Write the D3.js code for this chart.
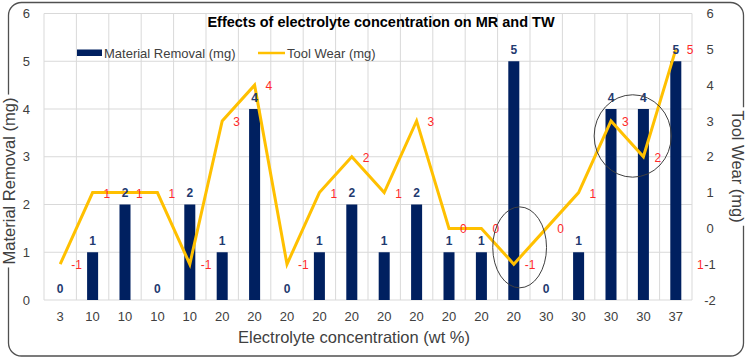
<!DOCTYPE html>
<html>
<head>
<meta charset="utf-8">
<script src="https://cdnjs.cloudflare.com/ajax/libs/d3/7.8.5/d3.min.js"></script>
<style>
  body { margin: 0; background: #fff; }
  svg text { font-family: "Liberation Sans", Arial, sans-serif; }
</style>
</head>
<body>
<div id="chart-holder"></div>
<script>
// Chart data
var concentration = ["3", "10", "10", "10", "10", "20", "20", "20", "20", "20",
                     "20", "20", "20", "20", "20", "30", "30", "30", "30", "37"];
var materialRemoval = [0, 1, 2, 0, 2, 1, 4, 0, 1, 2, 1, 2, 1, 1, 5, 0, 1, 4, 4, 5];
var toolWear = [-1, 1, 1, 1, -1, 3, 4, -1, 1, 2, 1, 3, 0, 0, -1, 0, 1, 3, 2, 5];
var leftTicks = [0, 1, 2, 3, 4, 5, 6];
var rightTicks = [-2, -1, 0, 1, 2, 3, 4, 5, 6];

// Hand drawn circles: category position, tool wear value, radius in bands / mg
var circlePos = [14.68, 18.17];
var circleValue = [-0.53, 2.58];
var circleRx = [0.83, 1.19];
var circleRy = [1.13, 1.15];

var width = 748;
var height = 362;
var plot = {left: 44, right: 692, top: 13.5, bottom: 300};

var svg = d3.select("#chart-holder")
  .append("svg")
  .attr("width", width)
  .attr("height", height);

// Scales
var x = d3.scaleBand()
  .domain(d3.range(concentration.length))
  .range([plot.left, plot.right]);
var xc = d3.scaleLinear()
  .domain([0, concentration.length])
  .range([plot.left, plot.right]);
var yL = d3.scaleLinear().domain([0, 6]).range([plot.bottom, plot.top]);
var yR = d3.scaleLinear().domain([-2, 6]).range([plot.bottom, plot.top]);
var bw = x.bandwidth();
var plain = function(d) { return String(d); };

// Outer frame
svg.append("rect")
  .attr("x", 8.5).attr("y", 2.5)
  .attr("width", 735).attr("height", 353.5)
  .attr("rx", 13)
  .attr("fill", "#fff")
  .attr("stroke", "#505050")
  .attr("stroke-width", 1.3);

// Axis titles, with white behind to break the frame
function axisTitle(txt, tx, ty, rot) {
  var g = svg.append("g").attr("transform", "translate(" + tx + "," + ty + ") rotate(" + rot + ")");
  var bg = g.append("rect").attr("fill", "#fff");
  var t = g.append("text")
    .attr("text-anchor", "middle")
    .attr("fill", "#404040")
    .style("font-size", "16.5px")
    .text(txt);
  var b = t.node().getBBox();
  bg.attr("x", b.x - 3).attr("y", b.y).attr("width", b.width + 6).attr("height", b.height);
}
axisTitle("Material Removal (mg)", 15, 181, -90);
axisTitle("Tool Wear (mg)", 732, 166.5, 90);
axisTitle("Electrolyte concentration (wt %)", 354, 343, 0);

// Gridlines
svg.append("g")
  .selectAll("line")
  .data(leftTicks)
  .enter()
  .append("line")
  .attr("x1", plot.left).attr("x2", plot.right)
  .attr("y1", function(d) { return yL(d); })
  .attr("y2", function(d) { return yL(d); })
  .attr("stroke", "#d9d9d9");

svg.append("g")
  .selectAll("line")
  .data(d3.range(concentration.length + 1))
  .enter()
  .append("line")
  .attr("x1", function(d) { return xc(d); })
  .attr("x2", function(d) { return xc(d); })
  .attr("y1", plot.top).attr("y2", plot.bottom)
  .attr("stroke", "#d9d9d9");

// Axes (labels only)
var axisL = svg.append("g")
  .attr("transform", "translate(" + plot.left + ",0)")
  .call(d3.axisLeft(yL).tickValues(leftTicks).tickFormat(plain).tickSize(0).tickPadding(14));
var axisR = svg.append("g")
  .attr("transform", "translate(" + plot.right + ",0)")
  .call(d3.axisRight(yR).tickValues(rightTicks).tickFormat(plain).tickSize(0).tickPadding(18));
var axisB = svg.append("g")
  .attr("transform", "translate(0," + plot.bottom + ")")
  .call(d3.axisBottom(x).tickFormat(function(i) { return concentration[i]; })
    .tickSize(0).tickPadding(12));

[axisL, axisR, axisB].forEach(function(a) {
  a.select(".domain").remove();
  a.selectAll("text")
    .attr("fill", "#404040")
    .style("font-size", "13px")
    .style("font-family", "'Liberation Sans', Arial, sans-serif");
});
axisR.selectAll("text").attr("text-anchor", "middle");

// Bars
svg.append("g")
  .selectAll("rect")
  .data(materialRemoval)
  .enter()
  .append("rect")
  .attr("x", function(d, i) { return x(i) + bw * 0.33; })
  .attr("width", bw * 0.34)
  .attr("y", function(d) { return yL(d); })
  .attr("height", function(d) { return yL(0) - yL(d); })
  .attr("fill", "#002060");

// Tool wear line
var line = d3.line()
  .x(function(d, i) { return x(i) + bw / 2; })
  .y(function(d) { return yR(d); });

svg.append("path")
  .datum(toolWear)
  .attr("d", line)
  .attr("fill", "none")
  .attr("stroke", "#ffc000")
  .attr("stroke-width", 3);

// Bar labels
svg.append("g")
  .selectAll("text")
  .data(materialRemoval)
  .enter()
  .append("text")
  .attr("x", function(d, i) { return x(i) + bw / 2; })
  .attr("y", function(d) { return yL(d) - 7.5; })
  .attr("text-anchor", "middle")
  .attr("fill", "#1f3a70")
  .style("font-size", "12px")
  .style("font-weight", "bold")
  .text(plain);

// Line labels
svg.append("g")
  .selectAll("text")
  .data(toolWear)
  .enter()
  .append("text")
  .attr("x", function(d, i) { return x(i) + bw / 2 + 11; })
  .attr("y", function(d) { return yR(d) + 5; })
  .attr("fill", "#ff2a2a")
  .style("font-size", "12px")
  .text(plain);

// stray label near the right axis
svg.append("text")
  .attr("x", xc(concentration.length) + 5)
  .attr("y", yR(-1) + 5)
  .attr("fill", "#ff2a2a")
  .style("font-size", "12px")
  .text("1");

// Circles
svg.append("g")
  .selectAll("ellipse")
  .data(circlePos)
  .enter()
  .append("ellipse")
  .attr("cx", function(d) { return xc(d); })
  .attr("cy", function(d, i) { return yR(circleValue[i]); })
  .attr("rx", function(d, i) { return circleRx[i] * bw; })
  .attr("ry", function(d, i) { return yR(0) - yR(circleRy[i]); })
  .attr("fill", "none")
  .attr("stroke", "#404040")
  .attr("stroke-width", 1);

// Title
svg.append("text")
  .attr("x", 381).attr("y", 27)
  .attr("text-anchor", "middle")
  .attr("fill", "#000")
  .style("font-size", "14.5px")
  .style("font-weight", "bold")
  .text("Effects of electrolyte concentration on MR and TW");

// Legend
svg.append("rect")
  .attr("x", 77).attr("y", 49.5)
  .attr("width", 25).attr("height", 6.5)
  .attr("fill", "#002060");
svg.append("text")
  .attr("x", 104).attr("y", 57.5)
  .attr("fill", "#404040")
  .style("font-size", "13px")
  .text("Material Removal (mg)");
svg.append("line")
  .attr("x1", 258).attr("x2", 285)
  .attr("y1", 53).attr("y2", 53)
  .attr("stroke", "#ffc000")
  .attr("stroke-width", 2.5);
svg.append("text")
  .attr("x", 287).attr("y", 57.5)
  .attr("fill", "#404040")
  .style("font-size", "13px")
  .text("Tool Wear (mg)");
</script>
</body>
</html>
